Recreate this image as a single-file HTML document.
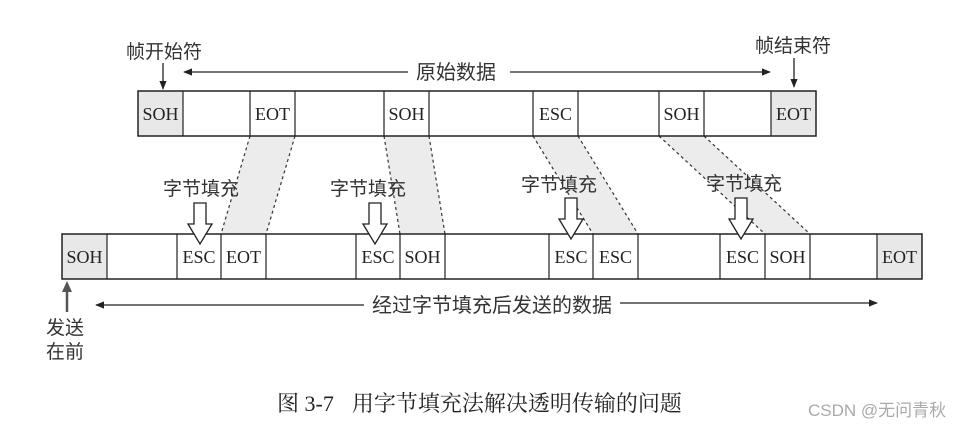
<!DOCTYPE html>
<html><head><meta charset="utf-8"><style>
html,body{margin:0;padding:0;background:#fff;width:958px;height:426px;overflow:hidden}
svg{display:block}
.c{font-family:"Liberation Sans","Noto Sans CJK SC",sans-serif;fill:#333}
.s{font-family:"Liberation Serif","Noto Serif CJK SC",serif;fill:#222}
</style></head><body>
<svg width="958" height="426" viewBox="0 0 958 426" xmlns="http://www.w3.org/2000/svg">
<defs>
<marker id="a" viewBox="0 0 10 10" refX="9" refY="5" markerWidth="7" markerHeight="7" orient="auto"><path d="M0,1 L10,5 L0,9 z" fill="#222"/></marker>
</defs>
<g fill="#ececec">
<polygon points="250,136 295,136 266,234 221,234"/>
<polygon points="384,136 429,136 445,234 400,234"/>
<polygon points="533,136 578,136 638,234 593,234"/>
<polygon points="659,136 704,136 810,234 765,234"/>
</g>
<g stroke="#333" stroke-width="1.2" stroke-dasharray="3,3" fill="none">
<line x1="250" y1="136" x2="221" y2="234"/><line x1="295" y1="136" x2="266" y2="234"/>
<line x1="384" y1="136" x2="400" y2="234"/><line x1="429" y1="136" x2="445" y2="234"/>
<line x1="533" y1="136" x2="593" y2="234"/><line x1="578" y1="136" x2="638" y2="234"/>
<line x1="659" y1="136" x2="765" y2="234"/><line x1="704" y1="136" x2="810" y2="234"/>
</g>
<rect x="138" y="91" width="45" height="45" fill="#e8e8e8"/>
<rect x="771" y="91" width="45" height="45" fill="#e8e8e8"/>
<rect x="138" y="91" width="678" height="45" fill="none" stroke="#222" stroke-width="1.5"/>
<g stroke="#222" stroke-width="1.2">
<line x1="183" y1="91" x2="183" y2="136"/><line x1="250" y1="91" x2="250" y2="136"/><line x1="295" y1="91" x2="295" y2="136"/>
<line x1="384" y1="91" x2="384" y2="136"/><line x1="429" y1="91" x2="429" y2="136"/><line x1="533" y1="91" x2="533" y2="136"/>
<line x1="578" y1="91" x2="578" y2="136"/><line x1="659" y1="91" x2="659" y2="136"/><line x1="704" y1="91" x2="704" y2="136"/>
<line x1="771" y1="91" x2="771" y2="136"/>
</g>
<g class="s" font-size="18" text-anchor="middle">
<text x="160.5" y="120">SOH</text><text x="272.5" y="120">EOT</text><text x="406.5" y="120">SOH</text>
<text x="555.5" y="120">ESC</text><text x="681.5" y="120">SOH</text><text x="793.5" y="120">EOT</text>
</g>
<rect x="62" y="234" width="45" height="45" fill="#e8e8e8"/>
<rect x="877" y="234" width="45" height="45" fill="#e8e8e8"/>
<rect x="62" y="234" width="860" height="45" fill="none" stroke="#222" stroke-width="1.5"/>
<g stroke="#222" stroke-width="1.2">
<line x1="107" y1="234" x2="107" y2="279"/><line x1="177" y1="234" x2="177" y2="279"/><line x1="221" y1="234" x2="221" y2="279"/><line x1="266" y1="234" x2="266" y2="279"/>
<line x1="356" y1="234" x2="356" y2="279"/><line x1="400" y1="234" x2="400" y2="279"/><line x1="445" y1="234" x2="445" y2="279"/>
<line x1="549" y1="234" x2="549" y2="279"/><line x1="593" y1="234" x2="593" y2="279"/><line x1="638" y1="234" x2="638" y2="279"/>
<line x1="720" y1="234" x2="720" y2="279"/><line x1="765" y1="234" x2="765" y2="279"/><line x1="810" y1="234" x2="810" y2="279"/>
<line x1="877" y1="234" x2="877" y2="279"/>
</g>
<g class="s" font-size="18" text-anchor="middle">
<text x="84.5" y="263">SOH</text><text x="199" y="263">ESC</text><text x="243.5" y="263">EOT</text>
<text x="378" y="263">ESC</text><text x="422.5" y="263">SOH</text>
<text x="571" y="263">ESC</text><text x="615.5" y="263">ESC</text>
<text x="742.5" y="263">ESC</text><text x="787.5" y="263">SOH</text><text x="899.5" y="263">EOT</text>
</g>
<g fill="#fff" stroke="#222" stroke-width="1.3">
<path d="M194,203 L206,203 L206,224 L212,224 L200,244 L188,224 L194,224 Z"/>
<path d="M369,203 L381,203 L381,224 L387,224 L375,244 L363,224 L369,224 Z"/>
<path d="M565,198 L577,198 L577,219 L583,219 L571,239 L559,219 L565,219 Z"/>
<path d="M735,198 L747,198 L747,219 L753,219 L741,239 L729,219 L735,219 Z"/>
</g>
<g class="c" font-size="19">
<text x="163" y="195">字节填充</text><text x="330" y="195">字节填充</text>
<text x="521" y="191">字节填充</text><text x="706" y="190">字节填充</text>
<text x="126" y="58">帧开始符</text><text x="755" y="52">帧结束符</text>
<text x="416" y="79" font-size="20">原始数据</text>
<text x="372" y="312" font-size="20">经过字节填充后发送的数据</text>
<text x="46" y="334">发送</text><text x="46" y="358">在前</text>
</g>
<g stroke="#222" stroke-width="1.3">
<line x1="163" y1="63" x2="163" y2="89" marker-end="url(#a)"/>
<line x1="794" y1="58" x2="794" y2="87" marker-end="url(#a)"/>
<line x1="408" y1="72" x2="184" y2="72" marker-end="url(#a)"/>
<line x1="510" y1="72" x2="770" y2="72" marker-end="url(#a)"/>
<line x1="364" y1="305" x2="96" y2="305" marker-end="url(#a)"/>
<line x1="620" y1="303" x2="877" y2="303" marker-end="url(#a)"/>
</g>
<line x1="67" y1="312" x2="67" y2="284" stroke="#555" stroke-width="2.5"/>
<path d="M67,281 L62,292 L72,292 Z" fill="#555"/>
<text x="277" y="411" class="s" font-size="22">图 3-7<tspan dx="18">用字节填充法解决透明传输的问题</tspan></text>
<text x="808" y="416" font-family="Liberation Sans,Noto Sans CJK SC,sans-serif" font-size="17" fill="#aaa">CSDN @无问青秋</text>
</svg>
</body></html>
